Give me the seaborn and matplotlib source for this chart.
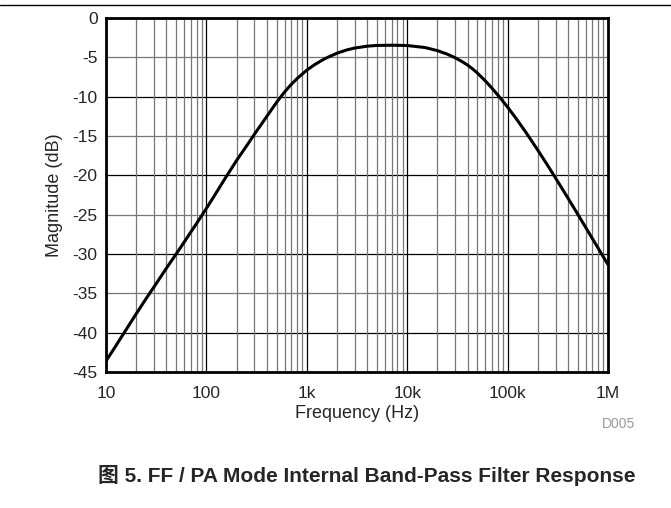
import matplotlib

matplotlib.use("Agg")
import matplotlib.pyplot as plt
import numpy as np
import pandas as pd
import seaborn as sns
from matplotlib.lines import Line2D
from matplotlib.ticker import FixedLocator, LogLocator, NullFormatter

# values
freq_hz = [10, 12, 15, 20, 25, 30, 40, 50, 60, 70, 80, 100, 120, 150, 200,
           250, 300, 400, 500, 600, 700, 800, 1000, 1200, 1500, 2000, 2500,
           3000, 4000, 5000, 7000, 10000, 15000, 20000, 25000, 30000, 35000,
           40000, 45000, 50000, 60000, 70000, 84000, 100000, 120000, 150000,
           200000, 250000, 300000, 400000, 500000, 700000, 1000000]
magnitude_db = [-43.6, -42.05, -40.1, -37.6, -35.7, -34.2, -31.8, -30.0,
                -28.5, -27.2, -26.1, -24.2, -22.6, -20.6, -18.1, -16.3,
                -14.8, -12.5, -10.72, -9.41, -8.44, -7.7, -6.63, -5.92,
                -5.19, -4.47, -4.06, -3.82, -3.58, -3.49, -3.46, -3.5,
                -3.75, -4.15, -4.59, -5.05, -5.52, -5.99, -6.49, -7.0,
                -7.99, -8.93, -10.12, -11.33, -12.68, -14.42, -16.8, -18.72,
                -20.33, -22.91, -24.95, -28.05, -31.35]

x_ticks = [10, 100, 1e3, 1e4, 1e5, 1e6]
x_tick_labels = ["10", "100", "1k", "10k", "100k", "1M"]
y_ticks = [0, -5, -10, -15, -20, -25, -30, -35, -40, -45]

caption = "图 5. FF / PA Mode Internal Band-Pass Filter Response"

sns.set_style("white")
plt.rcParams["font.family"] = ["Liberation Sans", "Noto Sans CJK SC", "DejaVu Sans"]

df = pd.DataFrame({"f": freq_hz, "db": magnitude_db})

W, H = 671, 508
fig = plt.figure(figsize=(W / 100, H / 100), dpi=100)
ax = fig.add_axes([106 / W, (H - 372) / H, 502 / W, 354 / H])

ax.set_xscale("log")
ax.set_xlim(10, 1e6)
ax.set_ylim(-45, 0)

# grid: decades black, in-between gray; 10 dB black, 5 dB gray
ax.xaxis.set_major_locator(FixedLocator(x_ticks))
ax.xaxis.set_minor_locator(LogLocator(base=10, subs=np.arange(2, 10)))
ax.xaxis.set_minor_formatter(NullFormatter())
ax.set_xticks(x_ticks, x_tick_labels)
ax.set_yticks(y_ticks, [str(v) for v in y_ticks])
ax.grid(True, which="major", axis="x", color="black", lw=0.9)
ax.grid(True, which="minor", axis="x", color="#777777", lw=0.9)
for v in y_ticks:
    ax.axhline(v, color="black" if v % 10 == 0 else "#777777", lw=0.9, zorder=0.5)

sns.lineplot(data=df, x="f", y="db", ax=ax, color="black", lw=2.2, zorder=3)

ax.tick_params(axis="both", which="both", length=0, labelsize=12.5)
ax.tick_params(axis="x", pad=10)
ax.tick_params(axis="y", pad=6)
for s in ax.spines.values():
    s.set_color("black")
    s.set_linewidth(2)

ax.set_xlabel("Frequency (Hz)", fontsize=13, labelpad=3)
ax.set_ylabel("Magnitude (dB)", fontsize=13, labelpad=7)

fig.text(635 / W, (H - 424) / H, "D005", fontsize=10, color="#999999",
         ha="right", va="center")
fig.text(636 / W, (H - 476) / H, caption, fontsize=15, fontweight="bold",
         ha="right", va="center")
fig.add_artist(Line2D([0, 1], [(H - 5) / H] * 2, color="black", lw=1,
                      transform=fig.transFigure))

fig.savefig("out.png", dpi=100)
